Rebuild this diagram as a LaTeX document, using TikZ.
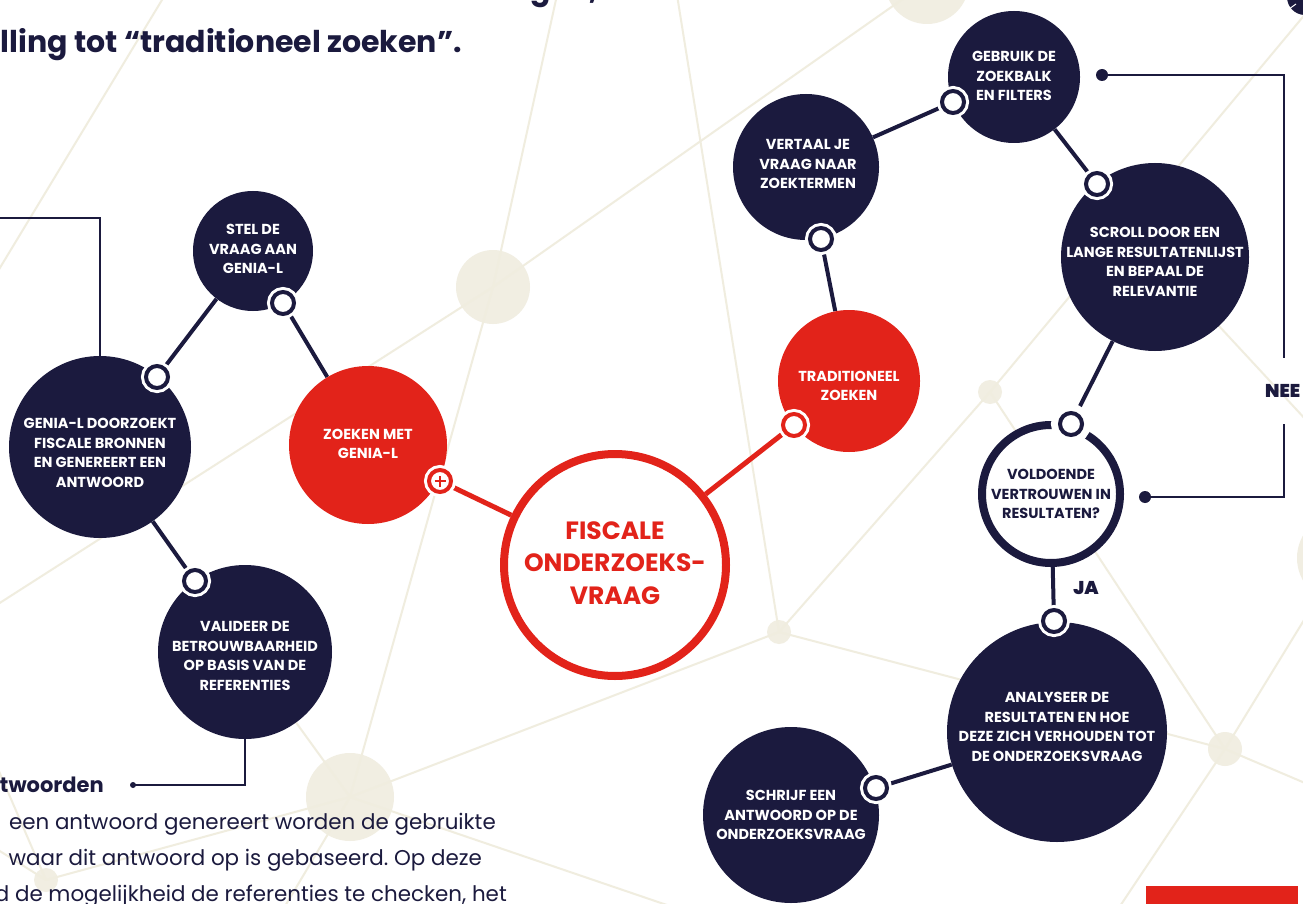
\documentclass[tikz,border=0pt]{standalone}
\usepackage{fontspec}
\setmainfont{Poppins}
\newfontface\pblack{Poppins Black}
\frenchspacing
\definecolor{navy}{HTML}{1B1A3E}
\definecolor{fred}{HTML}{E2231A}
\definecolor{beige}{HTML}{F1EEE2}
\definecolor{bline}{HTML}{F0EDDF}
\pgfdeclarelayer{bg}
\pgfdeclarelayer{conn}
\pgfsetlayers{bg,conn,main}
\tikzset{
  bub/.style={circle, fill=navy, draw=none, inner sep=0pt, minimum size=#1},
  redbub/.style={circle, fill=fred, draw=none, inner sep=0pt, minimum size=#1},
  bgc/.style={circle, fill=beige, draw=none, inner sep=0pt, minimum size=#1},
  bgl/.style={draw=bline, line width=2pt},
  lnk/.style={circle, draw=navy, line width=4pt, fill=white, inner sep=0pt, minimum size=22pt, preaction={draw=white, line width=10pt}},
  lnkbig/.style={lnk, preaction={draw=white, line width=18pt}},
  rlnk/.style={circle, draw=fred, line width=4pt, fill=white, inner sep=0pt, minimum size=22pt, preaction={draw=white, line width=10pt}},
  conn/.style={draw=navy, line width=4pt},
  rconn/.style={draw=fred, line width=5pt},
  thinl/.style={draw=navy, line width=1.6pt},
  neel/.style={draw=navy, line width=2.5pt},
  dotn/.style={circle, fill=navy, inner sep=0pt, minimum size=#1},
  lab/.style={text=white, font=\bfseries\fontsize{14.5}{19.5}\selectfont, align=center, inner sep=0pt},
  body/.style={text=navy, font=\fontsize{21.4}{25}\selectfont, inner sep=0pt, anchor=base east},
  yesno/.style={text=navy, font=\pblack\fontsize{18.5}{20}\selectfont, inner sep=0pt},
}
\begin{document}
\begin{tikzpicture}[x=1pt,y=-1pt]
\useasboundingbox (0,0) rectangle (1303,904);
\clip (0,0) rectangle (1303,904);

% background network
\begin{pgfonlayer}{bg}
\fill[white] (0,0) rectangle (1303,904);
\node[bgc=84] (g1) at (927,-18) {};
\node[bgc=74] (g2) at (493,287) {};
\node[bgc=24] (g3) at (990,392) {};
\node[bgc=24] (g4) at (779,632) {};
\node[bgc=88] (g5) at (350,797) {};
\node[bgc=34] (g6) at (1225,749) {};
\node[bgc=24] (g7) at (46,880) {};
\node[bgc=90] (g8) at (1342,558) {};
\coordinate (e1) at (165,-5);
\coordinate (e2) at (-5,276);
\coordinate (e3) at (557,-5);
\coordinate (e4) at (-5,606);
\coordinate (e5) at (677,-5);
\coordinate (e6) at (1312,6);
\coordinate (e7) at (705,918);
\coordinate (e8) at (278,918);
\coordinate (e9) at (1112,918);
\coordinate (e10) at (1312,786);
\coordinate (e11) at (1320,435);
\coordinate (e12) at (-5,762);
\coordinate (e13) at (-5,848);
\draw[bgl] (e1) -- (e2);
\draw[bgl] (e3) -- (g2.center);
\draw[bgl] (g2.center) -- (g1.center);
\draw[bgl] (g2.center) -- (e4);
\draw[bgl] (g2.center) -- (g5.center);
\draw[bgl] (g5.center) -- (245,652);
\draw[bgl] (g5.center) -- (g4.center);
\draw[bgl] (g5.center) -- (g7.center);
\draw[bgl] (g5.center) -- (e7);
\draw[bgl] (g5.center) -- (e8);
\draw[bgl] (e5) -- (g4.center);
\draw[bgl] (g4.center) -- (g3.center);
\draw[bgl] (g4.center) -- (g6.center);
\draw[bgl] (g3.center) -- (e6);
\draw[bgl] (g3.center) -- (g6.center);
\draw[bgl] (g6.center) -- (g8.center);
\draw[bgl] (g6.center) -- (e9);
\draw[bgl] (g6.center) -- (e10);
\draw[bgl] (1155,257) -- (e11);
\draw[bgl] (g7.center) -- (e12);
\draw[bgl] (g7.center) -- (e13);
\end{pgfonlayer}

% main circles
\node[bub=120] (stel) at (253,251) {};
\node[bub=182] (doorz) at (100,447) {};
\node[redbub=158] (metg) at (368,445) {};
\node[bub=174] (valid) at (245,652) {};
\node[circle, draw=fred, line width=8pt, fill=white, inner sep=0pt, minimum size=222pt] (fisc) at (615,565) {};
\node[redbub=142] (trad) at (849,381) {};
\node[bub=146] (vert) at (806,167) {};
\node[bub=132] (gebr) at (1014,77) {};
\node[bub=188] (scroll) at (1155,257) {};
\node[circle, draw=navy, line width=8pt, fill=white, inner sep=0pt, minimum size=138pt] (vold) at (1051,494) {};
\node[bub=220] (anal) at (1057,732) {};
\node[bub=176] (schr) at (791,815) {};

% labels
\node[lab] (tstel) at (253,249) {STEL DE\\VRAAG AAN\\GENIA-L};
\node[lab] (tdoorz) at (100,453) {GENIA-L DOORZOEKT\\FISCALE BRONNEN\\EN GENEREERT EEN\\ANTWOORD};
\node[lab] (tmetg) at (368,444) {ZOEKEN MET\\GENIA-L};
\node[lab] (tvalid) at (245,656) {VALIDEER DE\\BETROUWBAARHEID\\OP BASIS VAN DE\\REFERENTIES};
\node[text=fred, font=\bfseries\fontsize{25}{32.5}\selectfont, align=center, inner sep=0pt] (tfisc) at (615,563) {FISCALE\\ONDERZOEKS-\\VRAAG};
\node[lab] (ttrad) at (849,386) {TRADITIONEEL\\ZOEKEN};
\node[lab] (tvert) at (808,164) {VERTAAL JE\\VRAAG NAAR\\ZOEKTERMEN};
\node[lab] (tgebr) at (1014,76) {GEBRUIK DE\\ZOEKBALK\\EN FILTERS};
\node[lab] (tscroll) at (1155,262) {SCROLL DOOR EEN\\LANGE RESULTATENLIJST\\EN BEPAAL DE\\RELEVANTIE};
\node[lab, text=navy] (tvold) at (1051,494) {VOLDOENDE\\VERTROUWEN IN\\RESULTATEN?};
\node[lab] (tanal) at (1057,727) {ANALYSEER DE\\RESULTATEN EN HOE\\DEZE ZICH VERHOUDEN TOT\\DE ONDERZOEKSVRAAG};
\node[lab] (tschr) at (791,815) {SCHRIJF EEN\\ANTWOORD OP DE\\ONDERZOEKSVRAAG};

% link rings
\node[lnk] (r1) at (283,303) {};
\node[lnk] (r2) at (157,377) {};
\node[lnk] (r3) at (195,581) {};
\node[rlnk] (rp) at (440,481) {};
\node[rlnk] (rt) at (794,425) {};
\node[lnk] (r4) at (821,239) {};
\node[lnk] (r5) at (953,102) {};
\node[lnk] (r6) at (1097,184) {};
\node[lnkbig] (r7) at (1071,424) {};
\node[lnk] (r8) at (1054,621) {};
\node[lnk] (r9) at (876,788) {};
\draw[fred, line width=2.6pt] ([xshift=-5.5pt]rp.center) -- ([xshift=5.5pt]rp.center);
\draw[fred, line width=2.6pt] ([yshift=-5.5pt]rp.center) -- ([yshift=5.5pt]rp.center);

\begin{pgfonlayer}{conn}
\draw[conn] (r1) -- (metg);
\draw[conn] (r2) -- (stel);
\draw[conn] (r3) -- (doorz);
\draw[rconn] (rp) -- (fisc);
\draw[rconn] (rt) -- (fisc);
\draw[conn] (r4) -- (trad);
\draw[conn] (r5) -- (vert);
\draw[conn] (r6) -- (gebr);
\draw[conn] (r7) -- (scroll);
\draw[conn] (r8) -- (vold);
\draw[conn] (r9) -- (anal);
\end{pgfonlayer}

% side connectors
\coordinate (c1) at (100,218);
\coordinate (c0) at (-5,218);
\draw[thinl] (doorz.north) -- (c1) -- (c0);
\node[dotn=6pt] (d1) at (133,785) {};
\draw[thinl] (valid.south) |- (d1.center);
\node[dotn=12pt] (d2) at (1102,75) {};
\node[dotn=12pt] (d3) at (1145,497) {};
\coordinate (n1) at (1284,358);
\coordinate (n2) at (1284,424);
\draw[neel] (d2.center) -| (n1);
\draw[neel] (n2) |- (d3.center);
\node[yesno, anchor=west] (nee) at (1265,391) {NEE};
\node[yesno] (ja) at (1086,588) {JA};

% texts
\node[text=navy, font=\bfseries\fontsize{30}{36}\selectfont, inner sep=0pt, anchor=base east] (title) at (462,53) {lling tot “traditioneel zoeken”.};
\node[text=navy, font=\bfseries\fontsize{30}{36}\selectfont, inner sep=0pt, anchor=base east] (title0) at (598,0) {gen,};
\node[text=navy, font=\bfseries\fontsize{21}{25}\selectfont, inner sep=0pt, anchor=base east] (hd) at (104,792) {twoorden};
\node[body] (b1) at (496,829) {een antwoord genereert worden de gebruikte};
\node[body] (b2) at (482,865) {waar dit antwoord op is gebaseerd. Op deze};
\node[body] (b3) at (507,901) {d de mogelijkheid de referenties te checken, het};

% corner items
\node[dotn=36pt] (corner) at (1305,-3) {};
\draw[white, line width=1pt] (1289,9) -- (1296,4);
\fill[fred] (1146,886) rectangle (1298,910);
\end{tikzpicture}
\end{document}
